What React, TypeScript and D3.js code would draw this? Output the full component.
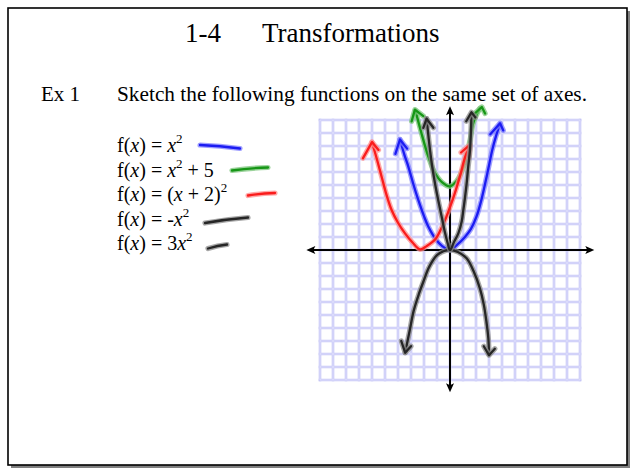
import React from 'react';
import * as d3 from 'd3';

// Slide size
const W = 637;
const H = 470;

// Hand-drawn sketches in grid units (x, y)
type Pt = [number, number];

const BLUE_CURVE: Pt[] = [
  [-3.85, 8.5], [-3.5, 7.3], [-3.2, 6.4], [-2.8, 5.0], [-2.44, 3.85], [-2.0, 2.6],
  [-1.67, 1.8], [-1.15, 0.9], [-0.6, 0.3], [0, 0], [0.6, 0.45], [1.15, 1.0],
  [1.6, 1.6], [2.05, 2.6], [2.4, 3.8], [2.7, 5.1], [3.0, 6.5], [3.25, 7.7],
  [3.55, 8.8], [3.85, 9.7]
];
const BLUE_HEADS: Pt[][] = [
  [[-4.2, 7.4], [-3.85, 8.5], [-3.3, 7.8]],
  [[3.1, 8.9], [3.85, 9.75], [4.1, 9.2]]
];

const GREEN_CURVE: Pt[] = [
  [-2.65, 10.7], [-2.2, 9.0], [-1.67, 7.2], [-1.2, 6.0], [-0.6, 5.2], [0, 4.9],
  [0.5, 5.3], [0.8, 5.8], [1.1, 6.6], [1.3, 7.4], [1.55, 8.5], [1.8, 9.8], [2.3, 10.9]
];
const GREEN_HEADS: Pt[][] = [
  [[-2.95, 9.9], [-2.7, 10.8], [-2.05, 10.3]],
  [[1.9, 10.5], [2.45, 11.0], [2.7, 10.5]]
];

const RED_CURVE: Pt[] = [
  [-6.0, 8.3], [-5.6, 6.9], [-5.25, 5.6], [-4.9, 4.3], [-4.5, 3.1], [-4.0, 2.1],
  [-3.46, 1.28], [-2.9, 0.6], [-2.3, 0.05], [-1.8, 0.3], [-1.15, 0.8], [-0.7, 1.6],
  [-0.38, 2.3], [0, 3.3], [0.38, 4.4], [0.8, 5.8], [1.15, 7.1], [1.5, 8.0]
];
const RED_HEADS: Pt[][] = [
  [[-6.7, 7.05], [-6.0, 8.3], [-5.5, 7.7]],
  [[0.85, 7.5], [1.55, 8.1], [1.45, 7.1]]
];

const BLACK_UP_CURVE: Pt[] = [
  [-1.8, 10.1], [-1.54, 7.7], [-1.35, 6.3], [-1.15, 5.1], [-0.9, 3.8], [-0.64, 2.56],
  [-0.4, 1.4], [-0.2, 0.6], [0, 0], [0.3, 0.6], [0.64, 1.28], [0.9, 2.2], [1.03, 3.1],
  [1.15, 4.0], [1.28, 5.1], [1.4, 6.4], [1.54, 7.7], [1.65, 10.4]
];
const BLACK_UP_HEADS: Pt[][] = [
  [[-2.05, 9.4], [-1.8, 10.1], [-1.28, 9.4]],
  [[1.25, 9.9], [1.65, 10.6], [1.95, 10.2]]
];

const BLACK_DOWN_CURVE: Pt[] = [
  [-3.45, -7.9], [-3.1, -6.2], [-2.8, -4.7], [-2.4, -3.4], [-2.05, -2.44], [-1.6, -1.3],
  [-1.0, -0.4], [-0.5, -0.1], [0, 0], [0.6, -0.15], [1.28, -0.64], [1.8, -1.6],
  [2.3, -2.95], [2.6, -4.2], [2.8, -5.5], [2.95, -6.8], [3.0, -8.0]
];
const BLACK_DOWN_HEADS: Pt[][] = [
  [[-3.75, -7.0], [-3.45, -7.9], [-3.0, -7.4]],
  [[2.6, -7.4], [3.0, -8.1], [3.45, -7.6]]
];

const SERIES = [
  { name: 'x^2', curve: BLUE_CURVE, heads: BLUE_HEADS, core: '#1c1cf2', halo: '#7f7fff' },
  { name: 'x^2+5', curve: GREEN_CURVE, heads: GREEN_HEADS, core: '#169616', halo: '#79c479' },
  { name: '(x+2)^2', curve: RED_CURVE, heads: RED_HEADS, core: '#fa1c1c', halo: '#ff8c8c' },
  { name: '-x^2', curve: BLACK_DOWN_CURVE, heads: BLACK_DOWN_HEADS, core: '#262626', halo: '#8a8a8a' },
  { name: '3x^2', curve: BLACK_UP_CURVE, heads: BLACK_UP_HEADS, core: '#262626', halo: '#8a8a8a' }
];

// Grid extent and ticks (one line per unit)
const GRID_MIN = -10;
const GRID_MAX = 10;
const GRID_TICKS = d3.range(GRID_MIN, GRID_MAX + 1);

// Legend lines: [pre, italic x?, ...] built as segments
type Seg = { t: string; i?: boolean; sup?: boolean };
const EQUATIONS: Seg[][] = [
  [{ t: 'f(' }, { t: 'x', i: true }, { t: ') = ' }, { t: 'x', i: true }, { t: '2', sup: true }],
  [{ t: 'f(' }, { t: 'x', i: true }, { t: ') = ' }, { t: 'x', i: true }, { t: '2', sup: true }, { t: ' + 5' }],
  [{ t: 'f(' }, { t: 'x', i: true }, { t: ') = (' }, { t: 'x', i: true }, { t: ' + 2)' }, { t: '2', sup: true }],
  [{ t: 'f(' }, { t: 'x', i: true }, { t: ') = -' }, { t: 'x', i: true }, { t: '2', sup: true }],
  [{ t: 'f(' }, { t: 'x', i: true }, { t: ') = 3' }, { t: 'x', i: true }, { t: '2', sup: true }]
];
// hand strokes next to each equation: [x0, dy0, x1, dy1] relative to baseline
const SWATCHES: number[][] = [
  [200, -7, 240, -3.5],
  [232, -6, 268, -9],
  [248, -5.5, 275, -8],
  [205, -2.5, 248, -8],
  [208, -1.5, 227, -5.5]
];
const EQ_COLORS = [0, 1, 2, 3, 4];

const FONT = '"Liberation Serif", "Times New Roman", serif';

export default function App() {
  const x = d3.scaleLinear().domain([GRID_MIN, GRID_MAX]).range([320, 580]);
  const y = d3.scaleLinear().domain([GRID_MIN, GRID_MAX]).range([380, 120]);

  const curveLine = d3.line<Pt>()
    .x(d => x(d[0]))
    .y(d => y(d[1]))
    .curve(d3.curveCatmullRom.alpha(0.5));
  const headLine = d3.line<Pt>().x(d => x(d[0])).y(d => y(d[1]));

  const ax0 = x(-11.05), ax1 = x(11.1);
  const ay0 = y(11.05), ay1 = y(-10.95);

  const stroke = (d: string, s: typeof SERIES[number], key: string) => (
    <g key={key}>
      <path d={d} fill="none" stroke={s.halo} strokeOpacity={0.75} strokeWidth={5.2}
        strokeLinecap="round" strokeLinejoin="round" />
      <path d={d} fill="none" stroke={s.core} strokeWidth={2.3}
        strokeLinecap="round" strokeLinejoin="round" />
    </g>
  );

  return (
    <svg width={W} height={H} style={{ position: 'absolute', left: 0, top: 0, background: '#fff' }}
      fontFamily={FONT}>
      <rect x={0} y={0} width={W} height={H} fill="#fff" />
      {/* slide frame with shadow */}
      <rect x={11} y={11} width={619} height={457} fill="#808080" />
      <rect x={8} y={8} width={619} height={457} fill="#fff" stroke="#000" strokeWidth={1.6} />

      <text x={185} y={42} fontSize={27} fill="#000">1-4</text>
      <text x={262} y={42} fontSize={27} fill="#000">Transformations</text>

      <text x={41} y={101} fontSize={21} fill="#000">Ex 1</text>
      <text x={117} y={101} fontSize={21} fill="#000" textLength={470} lengthAdjust="spacingAndGlyphs">
        Sketch the following functions on the same set of axes.
      </text>

      {EQUATIONS.map((segs, i) => {
        const base = 152 + i * 24.5;
        return (
          <text key={i} x={117} y={base} fontSize={20} fill="#000">
            {segs.map((s, j) => {
              if (s.sup) {
                return <tspan key={j} fontSize={13} dy={-9}>{s.t}</tspan>;
              }
              const prevSup = j > 0 && segs[j - 1].sup;
              return (
                <tspan key={j} fontStyle={s.i ? 'italic' : 'normal'} dy={prevSup ? 9 : 0}>
                  {s.t}
                </tspan>
              );
            })}
          </text>
        );
      })}
      {SWATCHES.map((sw, i) => {
        const base = 152 + i * 24.5;
        const s = SERIES[EQ_COLORS[i]];
        const d = `M${sw[0]},${base + sw[1]} Q${(sw[0] + sw[2]) / 2},${base + (sw[1] + sw[3]) / 2 - 1} ${sw[2]},${base + sw[3]}`;
        return stroke(d, s, 'sw' + i);
      })}

      {/* grid */}
      <g stroke="#c6c6f6" strokeWidth={2.6}>
        {GRID_TICKS.map(t => (
          <line key={'v' + t} x1={x(t)} x2={x(t)} y1={y(GRID_MIN) + 1.3} y2={y(GRID_MAX) - 1.3} />
        ))}
        {GRID_TICKS.map(t => (
          <line key={'h' + t} y1={y(t)} y2={y(t)} x1={x(GRID_MIN) - 1.3} x2={x(GRID_MAX) + 1.3} />
        ))}
      </g>
      <g stroke="#e4e4ff" strokeWidth={0.8}>
        {GRID_TICKS.map(t => (
          <line key={'iv' + t} x1={x(t)} x2={x(t)} y1={y(GRID_MIN)} y2={y(GRID_MAX)} />
        ))}
        {GRID_TICKS.map(t => (
          <line key={'ih' + t} y1={y(t)} y2={y(t)} x1={x(GRID_MIN)} x2={x(GRID_MAX)} />
        ))}
      </g>

      {/* axes */}
      <g stroke="#000" strokeWidth={2} fill="#000">
        <line x1={ax0 + 4} x2={ax1 - 4} y1={y(0)} y2={y(0)} />
        <line x1={x(0)} x2={x(0)} y1={ay0 + 4} y2={ay1 - 4} />
      </g>
      <g fill="#000">
        <path d={`M${ax0},${y(0)} l9,-4 l-2,4 l2,4 z`} />
        <path d={`M${ax1},${y(0)} l-9,-4 l2,4 l-2,4 z`} />
        <path d={`M${x(0)},${ay0} l-4,9 l4,-2 l4,2 z`} />
        <path d={`M${x(0)},${ay1} l-4,-9 l4,2 l4,-2 z`} />
      </g>

      {/* sketches */}
      {SERIES.map((s, i) => (
        <g key={s.name}>
          {stroke(curveLine(s.curve) || '', s, 'c' + i)}
          {s.heads.map((h, k) => stroke(headLine(h) || '', s, 'h' + i + k))}
        </g>
      ))}
    </svg>
  );
}
